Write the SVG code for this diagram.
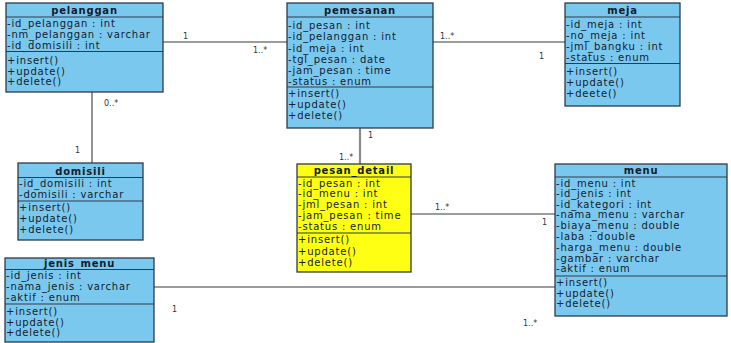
<svg xmlns="http://www.w3.org/2000/svg" width="731" height="343" viewBox="0 0 731 343">
  <style>
    .box { fill: #7ac8ee; stroke: #2e3a48; stroke-width: 1.3; }
    .box.yellow { fill: #ffff14; }
    .sep { stroke: #2e3a48; stroke-width: 1.1; }
    .title { font-family: "DejaVu Sans", Verdana, sans-serif; font-size: 10px; font-weight: bold; fill: #141c2e; text-anchor: middle; letter-spacing: 0.8px; }
    .attr { font-family: "DejaVu Sans", Verdana, sans-serif; font-size: 10px; fill: #141c2e; letter-spacing: 0.8px; }
    .conn { stroke: #3a3a3a; stroke-width: 1.1; fill: none; }
    .conn.thick { stroke: #8a8a8a; stroke-width: 2.2; }
    .mult { font-family: "DejaVu Sans", Verdana, sans-serif; font-size: 8px; fill: #333; }
  </style>
  <rect width="731" height="343" fill="#ffffff"/>

  <!-- associations -->
  <g id="connectors">
    <line class="conn" x1="163" y1="42" x2="287" y2="42"/>
    <line class="conn" x1="433" y1="42" x2="565" y2="42"/>
    <line class="conn thick" x1="360" y1="128" x2="360" y2="164"/>
    <line class="conn" x1="92" y1="92" x2="92" y2="163"/>
    <line class="conn" x1="411" y1="214" x2="555" y2="214"/>
    <line class="conn" x1="154" y1="287" x2="555" y2="287"/>
    <text class="mult" x="183" y="39">1</text>
    <text class="mult" x="253" y="53">1..*</text>
    <text class="mult" x="440" y="39">1..*</text>
    <text class="mult" x="539" y="59">1</text>
    <text class="mult" x="368" y="138">1</text>
    <text class="mult" x="339" y="160">1..*</text>
    <text class="mult" x="104" y="106">0..*</text>
    <text class="mult" x="75" y="153">1</text>
    <text class="mult" x="435" y="210">1..*</text>
    <text class="mult" x="542" y="225">1</text>
    <text class="mult" x="172" y="312">1</text>
    <text class="mult" x="523" y="326">1..*</text>
  </g>

  <g id="pelanggan">
    <rect class="box" x="6" y="3" width="157" height="89"/>
    <line class="sep" x1="6" y1="17" x2="163" y2="17"/>
    <line class="sep" x1="6" y1="51.5" x2="163" y2="51.5"/>
    <text class="title" x="84.5" y="14">pelanggan</text>
    <text class="attr" x="7" y="26.5">-id_pelanggan : int</text>
    <text class="attr" x="7" y="37.5">-nm_pelanggan : varchar</text>
    <text class="attr" x="7" y="48.5">-id_domisili : int</text>
    <text class="attr" x="7" y="63.5">+insert()</text>
    <text class="attr" x="7" y="74.5">+update()</text>
    <text class="attr" x="7" y="85">+delete()</text>
  </g>

  <g id="pemesanan">
    <rect class="box" x="287" y="3" width="146" height="125"/>
    <line class="sep" x1="287" y1="17" x2="433" y2="17"/>
    <line class="sep" x1="287" y1="87" x2="433" y2="87"/>
    <text class="title" x="360" y="14">pemesanan</text>
    <text class="attr" x="288" y="28.5">-id_pesan : int</text>
    <text class="attr" x="288" y="40">-id_pelanggan : int</text>
    <text class="attr" x="288" y="51.5">-id_meja : int</text>
    <text class="attr" x="288" y="62.5">-tgl_pesan : date</text>
    <text class="attr" x="288" y="73.5">-jam_pesan : time</text>
    <text class="attr" x="288" y="84.5">-status : enum</text>
    <text class="attr" x="288" y="97">+insert()</text>
    <text class="attr" x="288" y="108">+update()</text>
    <text class="attr" x="288" y="119">+delete()</text>
  </g>

  <g id="meja">
    <rect class="box" x="565" y="3" width="115" height="103"/>
    <line class="sep" x1="565" y1="17" x2="680" y2="17"/>
    <line class="sep" x1="565" y1="63.5" x2="680" y2="63.5"/>
    <text class="title" x="622.5" y="14">meja</text>
    <text class="attr" x="566" y="27.5">-id_meja : int</text>
    <text class="attr" x="566" y="38.5">-no_meja : int</text>
    <text class="attr" x="566" y="50">-jml_bangku : int</text>
    <text class="attr" x="566" y="60.5">-status : enum</text>
    <text class="attr" x="566" y="74.5">+insert()</text>
    <text class="attr" x="566" y="85.5">+update()</text>
    <text class="attr" x="566" y="96.5">+deete()</text>
  </g>

  <g id="domisili">
    <rect class="box" x="18" y="163" width="125" height="77"/>
    <line class="sep" x1="18" y1="177.5" x2="143" y2="177.5"/>
    <line class="sep" x1="18" y1="201" x2="143" y2="201"/>
    <text class="title" x="80.5" y="175">domisili</text>
    <text class="attr" x="19" y="187">-id_domisili : int</text>
    <text class="attr" x="19" y="197.5">-domisili : varchar</text>
    <text class="attr" x="19" y="211">+insert()</text>
    <text class="attr" x="19" y="222">+update()</text>
    <text class="attr" x="19" y="233">+delete()</text>
  </g>

  <g id="pesan_detail">
    <rect class="box yellow" x="297" y="164" width="114" height="108"/>
    <line class="sep" x1="297" y1="177" x2="411" y2="177"/>
    <line class="sep" x1="297" y1="233" x2="411" y2="233"/>
    <text class="title" x="354" y="173.5">pesan_detail</text>
    <text class="attr" x="298" y="186.5">-id_pesan : int</text>
    <text class="attr" x="298" y="197">-id_menu : int</text>
    <text class="attr" x="298" y="207.5">-jml_pesan : int</text>
    <text class="attr" x="298" y="219">-jam_pesan : time</text>
    <text class="attr" x="298" y="229.5">-status : enum</text>
    <text class="attr" x="298" y="243">+insert()</text>
    <text class="attr" x="298" y="254.5">+update()</text>
    <text class="attr" x="298" y="265.5">+delete()</text>
  </g>

  <g id="menu">
    <rect class="box" x="555" y="164" width="172" height="152"/>
    <line class="sep" x1="555" y1="177" x2="727" y2="177"/>
    <line class="sep" x1="555" y1="276" x2="727" y2="276"/>
    <text class="title" x="641" y="174">menu</text>
    <text class="attr" x="556" y="186.5">-id_menu : int</text>
    <text class="attr" x="556" y="197">-id_jenis : int</text>
    <text class="attr" x="556" y="207.5">-id_kategori : int</text>
    <text class="attr" x="556" y="218">-nama_menu : varchar</text>
    <text class="attr" x="556" y="229">-biaya_menu : double</text>
    <text class="attr" x="556" y="240">-laba : double</text>
    <text class="attr" x="556" y="250.5">-harga_menu : double</text>
    <text class="attr" x="556" y="261.5">-gambar : varchar</text>
    <text class="attr" x="556" y="272">-aktif : enum</text>
    <text class="attr" x="556" y="285.5">+insert()</text>
    <text class="attr" x="556" y="296.5">+update()</text>
    <text class="attr" x="556" y="307">+delete()</text>
  </g>

  <g id="jenis_menu">
    <rect class="box" x="5" y="258" width="149" height="84"/>
    <line class="sep" x1="5" y1="269.5" x2="154" y2="269.5"/>
    <line class="sep" x1="5" y1="304" x2="154" y2="304"/>
    <text class="title" x="79.5" y="267">jenis_menu</text>
    <text class="attr" x="6" y="278.5">-id_jenis : int</text>
    <text class="attr" x="6" y="289.5">-nama_jenis : varchar</text>
    <text class="attr" x="6" y="300.5">-aktif : enum</text>
    <text class="attr" x="6" y="315">+insert()</text>
    <text class="attr" x="6" y="325.5">+update()</text>
    <text class="attr" x="6" y="336">+delete()</text>
  </g>
</svg>
